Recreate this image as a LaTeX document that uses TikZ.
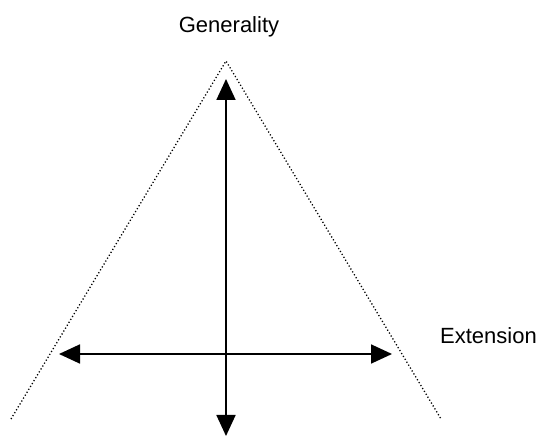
\documentclass[tikz,border=0pt]{standalone}
\usepackage{fontspec}
\setmainfont{Liberation Sans}
\usetikzlibrary{arrows.meta}
\begin{document}
\begin{tikzpicture}[x=1pt,y=1pt,
  edge/.style={dash pattern=on 1.2pt off 2.2pt, line width=1.3pt},
  axis/.style={line width=1.8pt, {Triangle[length=21pt,width=19pt]}-{Triangle[length=21pt,width=19pt]}},
  lbl/.style={font=\fontsize{22}{24}\selectfont, inner sep=0pt, anchor=base}]
\useasboundingbox (0,0) rectangle (543,436);
\coordinate (apex) at (226,375);
\coordinate (bl) at (11,17);
\coordinate (br) at (441,17);
\coordinate (vt) at (226,357);
\coordinate (vb) at (226,0);
\coordinate (hl) at (59,82);
\coordinate (hr) at (392,82);
\draw[edge] (bl) -- (apex) -- (br);
\draw[axis] (vb) -- (vt);
\draw[axis] (hl) -- (hr);
\node[lbl] (gen) at (229,403) {Generality};
\node[lbl, anchor=base west] (ext) at (440,92) {Extension};
\end{tikzpicture}
\end{document}
